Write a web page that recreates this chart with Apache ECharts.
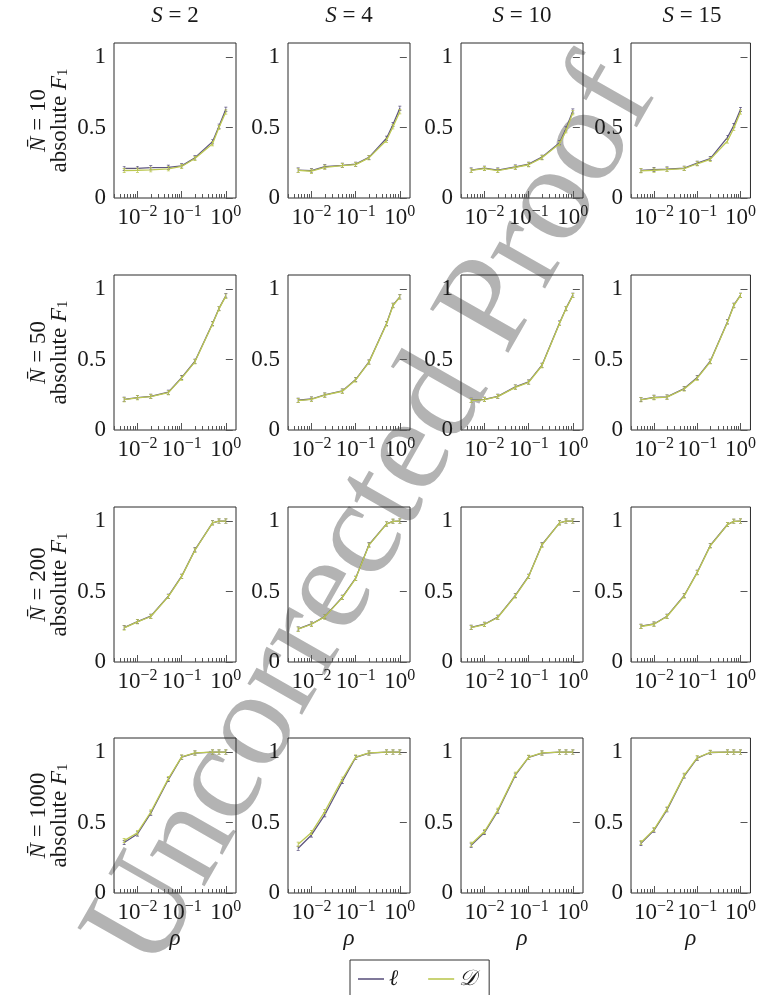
<!DOCTYPE html>
<html><head><meta charset="utf-8">
<script src="https://cdn.jsdelivr.net/npm/echarts@6/dist/echarts.min.js"></script>
<style>html,body{margin:0;padding:0;background:#fff}#c{width:759px;height:995px}</style>
</head><body><div id="c"></div>
<script>
// ---------- data ----------
const rho = [0.005, 0.01, 0.02, 0.05, 0.1, 0.2, 0.5, 0.7, 1];
const sValues = [2, 4, 10, 15];
const nValues = [10, 50, 200, 1000];
const yTickValues = [0, 0.5, 1];
const xMajorExponents = [-2, -1, 0];
const seriesNames = ['\u2113', '\uD835\uDC9F'];

// N = 10
const ellN10S2  = [0.210, 0.210, 0.215, 0.218, 0.228, 0.285, 0.400, 0.510, 0.630];
const dN10S2    = [0.195, 0.197, 0.200, 0.207, 0.224, 0.280, 0.385, 0.500, 0.610];
const ellN10S4  = [0.198, 0.194, 0.222, 0.232, 0.240, 0.288, 0.424, 0.522, 0.637];
const dN10S4    = [0.196, 0.190, 0.218, 0.230, 0.237, 0.285, 0.410, 0.505, 0.612];
const ellN10S10 = [0.198, 0.212, 0.198, 0.220, 0.240, 0.290, 0.392, 0.492, 0.618];
const dN10S10   = [0.196, 0.209, 0.195, 0.217, 0.236, 0.285, 0.385, 0.478, 0.605];
const ellN10S15 = [0.196, 0.202, 0.205, 0.212, 0.247, 0.280, 0.430, 0.515, 0.628];
const dN10S15   = [0.193, 0.197, 0.202, 0.209, 0.243, 0.274, 0.405, 0.495, 0.610];
// N = 50
const ellN50S2  = [0.218, 0.230, 0.239, 0.268, 0.372, 0.488, 0.756, 0.863, 0.953];
const dN50S2    = [0.215, 0.228, 0.237, 0.265, 0.368, 0.484, 0.752, 0.860, 0.950];
const ellN50S4  = [0.211, 0.220, 0.249, 0.277, 0.358, 0.483, 0.756, 0.886, 0.945];
const dN50S4    = [0.209, 0.218, 0.247, 0.275, 0.355, 0.480, 0.752, 0.882, 0.943];
const ellN50S10 = [0.211, 0.218, 0.239, 0.306, 0.341, 0.460, 0.760, 0.863, 0.957];
const dN50S10   = [0.209, 0.216, 0.237, 0.303, 0.338, 0.456, 0.756, 0.860, 0.955];
const ellN50S15 = [0.216, 0.232, 0.235, 0.294, 0.372, 0.488, 0.768, 0.886, 0.957];
const dN50S15   = [0.214, 0.229, 0.233, 0.291, 0.368, 0.484, 0.764, 0.882, 0.955];
// N = 200
const ellN200S2  = [0.244, 0.287, 0.325, 0.467, 0.609, 0.796, 0.988, 1.000, 1.000];
const dN200S2    = [0.242, 0.285, 0.323, 0.464, 0.606, 0.793, 0.987, 1.000, 1.000];
const ellN200S4  = [0.235, 0.270, 0.322, 0.460, 0.595, 0.832, 0.980, 0.998, 1.000];
const dN200S4    = [0.233, 0.268, 0.320, 0.457, 0.592, 0.829, 0.979, 0.998, 1.000];
const ellN200S10 = [0.246, 0.268, 0.318, 0.472, 0.609, 0.832, 0.988, 1.000, 1.000];
const dN200S10   = [0.244, 0.266, 0.316, 0.469, 0.606, 0.829, 0.987, 1.000, 1.000];
const ellN200S15 = [0.254, 0.270, 0.325, 0.472, 0.637, 0.827, 0.976, 0.998, 1.000];
const dN200S15   = [0.252, 0.268, 0.323, 0.469, 0.634, 0.824, 0.975, 0.998, 1.000];
// N = 1000
const ellN1000S2  = [0.358, 0.419, 0.566, 0.805, 0.964, 0.993, 1.000, 1.000, 1.000];
const dN1000S2    = [0.372, 0.428, 0.575, 0.812, 0.966, 0.994, 1.000, 1.000, 1.000];
const ellN1000S4  = [0.318, 0.412, 0.555, 0.791, 0.962, 0.993, 1.000, 1.000, 1.000];
const dN1000S4    = [0.346, 0.429, 0.578, 0.808, 0.965, 0.994, 1.000, 1.000, 1.000];
const ellN1000S10 = [0.339, 0.429, 0.580, 0.836, 0.962, 0.993, 1.000, 1.000, 1.000];
const dN1000S10   = [0.346, 0.436, 0.588, 0.842, 0.964, 0.994, 1.000, 1.000, 1.000];
const ellN1000S15 = [0.352, 0.445, 0.590, 0.830, 0.957, 0.997, 1.000, 1.000, 1.000];
const dN1000S15   = [0.358, 0.450, 0.597, 0.835, 0.960, 0.998, 1.000, 1.000, 1.000];

const ellRows = [
  [ellN10S2, ellN10S4, ellN10S10, ellN10S15],
  [ellN50S2, ellN50S4, ellN50S10, ellN50S15],
  [ellN200S2, ellN200S4, ellN200S10, ellN200S15],
  [ellN1000S2, ellN1000S4, ellN1000S10, ellN1000S15]
];
const dRows = [
  [dN10S2, dN10S4, dN10S10, dN10S15],
  [dN50S2, dN50S4, dN50S10, dN50S15],
  [dN200S2, dN200S4, dN200S10, dN200S15],
  [dN1000S2, dN1000S4, dN1000S10, dN1000S15]
];

// ---------- layout / style ----------
const FONT = '"Liberation Serif", "DejaVu Serif", serif';
const FS = 23;
const TXT = '#1a1a1a';
const colLeft = [114, 288, 461, 631];
const colWidth = 122;
const rowTop = [43, 275, 507, 738];
const rowHeight = 155;
const ellColor = '#5f5680';
const dColor = '#bcc852';
const ibeam = 'path://M0,0H4V1H2.5V6H4V7H0V6H1.5V1H0Z';

// log-space x range with 10% enlargement (pgfplots style)
const lMin = Math.log10(Math.min(...rho));
const lMax = Math.log10(Math.max(...rho));
const pad = 0.1 * (lMax - lMin);
const xMin = lMin - pad, xMax = lMax + pad;
const majorTicks = xMajorExponents.slice();
const minorTicks = [];
for (let e = Math.floor(xMin); e < Math.ceil(xMax); e++) {
  for (let k = 2; k <= 9; k++) {
    const v = e + Math.log10(k);
    if (v > xMin && v < xMax) minorTicks.push(v);
  }
}
const supRich = {
  b: { fontFamily: FONT, fontSize: FS, color: TXT },
  sup: { fontFamily: FONT, fontSize: 16, color: TXT, padding: [0, 0, 11, 0] }
};

const grids = [], xAxes = [], yAxes = [], series = [], graphics = [];
for (let r = 0; r < 4; r++) {
  for (let c = 0; c < 4; c++) {
    const gi = grids.length;
    grids.push({ left: colLeft[c], top: rowTop[r], width: colWidth, height: rowHeight,
      show: true, borderColor: '#2a2a2a', borderWidth: 1, backgroundColor: 'transparent' });
    xAxes.push({
      gridIndex: gi, type: 'value', position: 'bottom', min: xMin, max: xMax,
      axisLine: { show: false }, splitLine: { show: false },
      axisTick: { show: true, inside: true, length: 7, customValues: majorTicks, lineStyle: { color: '#555', width: 1 } },
      axisLabel: { show: true, customValues: majorTicks, margin: 6, interval: 0, hideOverlap: false,
        formatter: v => '{b|10}{sup|' + (v < 0 ? '\u2212' + (-v) : String(v)) + '}', rich: supRich },
      name: r === 3 ? '\u03C1' : '', nameLocation: 'middle', nameGap: 34,
      nameTextStyle: { fontFamily: FONT, fontSize: FS, fontStyle: 'italic', color: TXT }
    });
    xAxes.push({
      gridIndex: gi, type: 'value', position: 'bottom', min: xMin, max: xMax,
      axisLine: { show: false }, splitLine: { show: false },
      axisTick: { show: true, inside: true, length: 4, customValues: minorTicks, lineStyle: { color: '#555', width: 1 } },
      axisLabel: { show: false }
    });
    yAxes.push({
      gridIndex: gi, type: 'value', min: 0, max: 1.1,
      axisLine: { show: false }, splitLine: { show: false },
      axisTick: { show: true, inside: true, length: 7, customValues: yTickValues, lineStyle: { color: '#555', width: 1 } },
      axisLabel: { customValues: yTickValues, margin: 8, fontFamily: FONT, fontSize: FS, color: TXT, formatter: v => String(v) },
      name: c === 0 ? '{i|N\u0304} = ' + nValues[r] + '\nabsolute {i|F}{s|1}' : '',
      nameLocation: 'middle', nameGap: 44, nameRotate: 90,
      nameTextStyle: { fontFamily: FONT, fontSize: FS, color: TXT, lineHeight: 21,
        rich: { i: { fontFamily: FONT, fontSize: FS, fontStyle: 'italic', color: TXT, lineHeight: 21 },
                s: { fontFamily: FONT, fontSize: 15, color: TXT, padding: [7, 0, 0, 0], lineHeight: 21 } } }
    });
    series.push({
      type: 'line', name: seriesNames[0], xAxisIndex: 2 * gi, yAxisIndex: gi,
      data: rho.map((x, j) => [Math.log10(x), ellRows[r][c][j]]),
      symbol: ibeam, symbolSize: [3, 5], showSymbol: true,
      lineStyle: { color: ellColor, width: 1.3 }, itemStyle: { color: ellColor }, z: 3
    });
    series.push({
      type: 'line', name: seriesNames[1], xAxisIndex: 2 * gi, yAxisIndex: gi,
      data: rho.map((x, j) => [Math.log10(x), dRows[r][c][j]]),
      symbol: ibeam, symbolSize: [3, 5], showSymbol: true,
      lineStyle: { color: dColor, width: 1.3 }, itemStyle: { color: dColor }, z: 4
    });
  }
}
for (let c = 0; c < 4; c++) {
  graphics.push({ type: 'text', x: colLeft[c] + colWidth / 2, y: 16, silent: true,
    style: { text: '{i|S} = ' + sValues[c], fontFamily: FONT, fontSize: FS, fill: TXT,
      textAlign: 'center', textVerticalAlign: 'middle', align: 'center', verticalAlign: 'middle',
      rich: { i: { fontFamily: FONT, fontSize: FS, fontStyle: 'italic', fill: TXT, color: TXT } } } });
}
// watermark
graphics.push({ type: 'text', x: 374, y: 516, rotation: 1.053, z: -10, silent: true,
  style: { text: 'Uncorrected Proof', font: '137px "Liberation Serif"', fill: '#b3b3b3',
    textAlign: 'center', textVerticalAlign: 'middle', align: 'center', verticalAlign: 'middle' } });

const chart = echarts.init(document.getElementById('c'), null, { renderer: 'canvas' });
chart.setOption({
  animation: false,
  backgroundColor: '#fff',
  grid: grids, xAxis: xAxes, yAxis: yAxes, series: series,
  graphic: graphics,
  legend: { data: seriesNames, left: 350, top: 960, orient: 'horizontal',
    borderColor: '#333', borderWidth: 1, padding: [8, 12, 10, 8],
    icon: 'rect', itemWidth: 26, itemHeight: 1.6, itemGap: 30,
    textStyle: { fontFamily: FONT, fontSize: 22, fontStyle: 'italic', color: TXT } }
});
</script></body></html>
